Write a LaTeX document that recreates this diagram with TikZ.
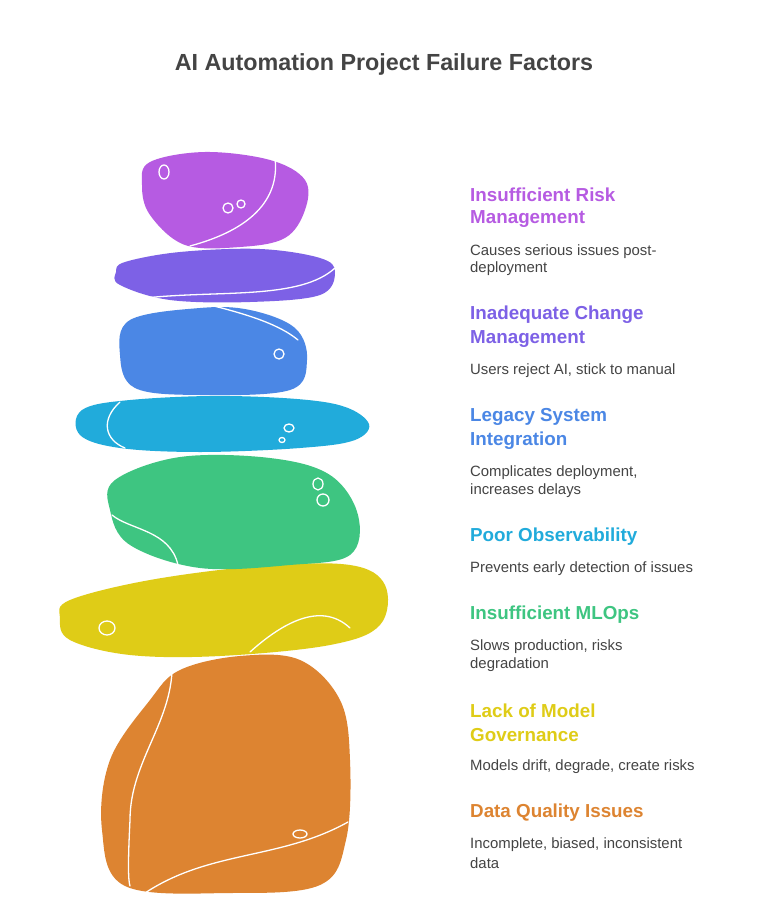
\documentclass[tikz,border=0pt]{standalone}
\usepackage{fontspec}
\setmainfont{Liberation Sans}
\begin{document}
\begin{tikzpicture}[x=1pt,y=-1pt,
 hd/.style={anchor=west,font=\bfseries\fontsize{18.8}{22}\selectfont,inner sep=0},
 ds/.style={anchor=west,font=\fontsize{14.9}{17}\selectfont,text=txt,inner sep=0},
 hl/.style={white,line width=1.3pt,line cap=round},
 st/.style={draw=none}]
\definecolor{c1}{HTML}{B65BE2}\definecolor{c2}{HTML}{7D61E6}\definecolor{c3}{HTML}{4B87E5}
\definecolor{c4}{HTML}{21ABDB}\definecolor{c5}{HTML}{3EC581}\definecolor{c6}{HTML}{DFCC17}
\definecolor{c7}{HTML}{DD8431}\definecolor{txt}{HTML}{444444}
\useasboundingbox[fill=white] (0,0) rectangle (768,909);
\node[font=\bfseries\fontsize{23.3}{26}\selectfont,text=txt] (title) at (384,64) {AI Automation Project Failure Factors};
% stones
\fill[c7] plot[smooth cycle,tension=0.6] coordinates {(180,670)(240,656)(300,660)(340,700)(350,760)(346,840)(320,885)(230,893)(125,886)(102,830)(110,760)(150,700)};
\fill[c6] plot[smooth cycle,tension=0.6] coordinates {(70,600)(150,580)(260,566)(350,565)(385,585)(380,625)(330,645)(220,656)(130,655)(70,640)(60,618)};
\fill[c5] plot[smooth cycle,tension=0.6] coordinates {(115,480)(180,457)(270,458)(330,475)(358,515)(350,555)(290,565)(200,568)(130,545)(110,510)};
\fill[c4] plot[smooth cycle,tension=0.6] coordinates {(82,410)(130,400)(230,396)(330,403)(368,422)(355,440)(300,448)(200,452)(120,448)(80,435)};
\fill[c3] plot[smooth cycle,tension=0.6] coordinates {(130,320)(200,308)(250,310)(295,328)(307,360)(290,390)(200,395)(135,388)(120,355)};
\fill[c2] plot[smooth cycle,tension=0.6] coordinates {(125,262)(180,252)(260,249)(320,258)(335,272)(320,295)(250,302)(170,300)(120,285)(116,272)};
\fill[c1] plot[smooth cycle,tension=0.6] coordinates {(150,162)(205,152)(270,160)(305,180)(305,210)(285,238)(240,247)(185,245)(150,215)(142,185)};
% highlights
\draw[hl] (172,660) .. controls (175,720) and (130,760) .. (130,820) .. controls (128,860) and (128,880) .. (130,886);
\draw[hl] (145,893) .. controls (210,850) and (280,860) .. (348,822);
\draw[hl] (300,834) ellipse (7 and 4);
\draw[hl] (250,652) .. controls (280,625) and (320,600) .. (350,628);
\draw[hl] (107,628) ellipse (8 and 7);
\draw[hl] (112,515) .. controls (130,530) and (170,530) .. (178,565);
\draw[hl] (318,484) ellipse (5 and 6);\draw[hl] (323,500) ellipse (6 and 6);
\draw[hl] (120,402) .. controls (100,420) and (105,440) .. (125,448);
\draw[hl] (289,428) ellipse (5 and 4);\draw[hl] (282,440) ellipse (3 and 2.5);
\draw[hl] (210,305) .. controls (250,315) and (280,325) .. (298,340);
\draw[hl] (279,354) ellipse (5 and 5);
\draw[hl] (145,298) .. controls (220,290) and (300,300) .. (335,268);
\draw[hl] (190,246) .. controls (250,230) and (280,200) .. (275,158);
\draw[hl] (164,172) ellipse (5 and 7);
\draw[hl] (228,208) ellipse (5 and 5);\draw[hl] (241,204) ellipse (4 and 4);
% labels
\node[hd,text=c1] (h1a) at (470,195) {Insufficient Risk};
\node[hd,text=c1] (h1b) at (470,219) {Management};
\node[ds] (d1a) at (470,252) {Causes serious issues post-};
\node[ds] (d1b) at (470,269) {deployment};
\node[hd,text=c2] (h2a) at (470,315) {Inadequate Change};
\node[hd,text=c2] (h2b) at (470,339) {Management};
\node[ds] (d2) at (470,371) {Users reject AI, stick to manual};
\node[hd,text=c3] (h3a) at (470,417) {Legacy System};
\node[hd,text=c3] (h3b) at (470,441) {Integration};
\node[ds] (d3a) at (470,473) {Complicates deployment,};
\node[ds] (d3b) at (470,491) {increases delays};
\node[hd,text=c4] (h4) at (470,537) {Poor Observability};
\node[ds] (d4) at (470,569) {Prevents early detection of issues};
\node[hd,text=c5] (h5) at (470,615) {Insufficient MLOps};
\node[ds] (d5a) at (470,647) {Slows production, risks};
\node[ds] (d5b) at (470,665) {degradation};
\node[hd,text=c6] (h6a) at (470,711) {Lack of Model};
\node[hd,text=c6] (h6b) at (470,735) {Governance};
\node[ds] (d6) at (470,767) {Models drift, degrade, create risks};
\node[hd,text=c7] (h7) at (470,813) {Data Quality Issues};
\node[ds] (d7a) at (470,845) {Incomplete, biased, inconsistent};
\node[ds] (d7b) at (470,863) {data};
\end{tikzpicture}
\end{document}
